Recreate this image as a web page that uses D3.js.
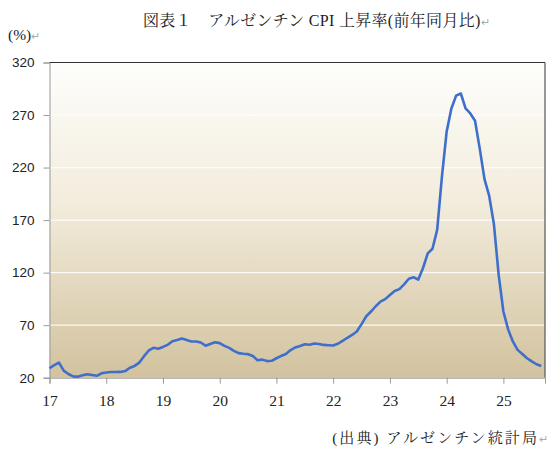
<!DOCTYPE html>
<html>
<head>
<meta charset="utf-8">
<script src="https://cdn.jsdelivr.net/npm/d3@7"></script>
<style>
  body { margin: 0; background: #fff; }
  svg { display: block; }
</style>
</head>
<body>
<svg id="chart" width="559" height="455"></svg>
<script>
// 月次データ 2017年1月〜2025年9月 (前年同月比, %)
const cpi2017 = [29, 32, 34.3, 26.7, 23.5, 21.2, 21, 22.3, 23.3, 22.6, 21.8, 24.2];
const cpi2018 = [25.0, 25.4, 25.4, 25.5, 26.3, 29.5, 31.2, 34.4, 40.5, 45.9, 48.5, 47.6];
const cpi2019 = [49.3, 51.3, 54.7, 55.8, 57.3, 55.8, 54.4, 54.5, 53.5, 50.5, 52.1, 53.8];
const cpi2020 = [52.9, 50.3, 48.4, 45.6, 43.4, 42.8, 42.4, 40.7, 36.6, 37.2, 35.8, 36.1];
const cpi2021 = [38.5, 40.7, 42.6, 46.3, 48.8, 50.2, 51.8, 51.4, 52.5, 52.1, 51.2, 50.9];
const cpi2022 = [50.7, 52.3, 55.1, 58.0, 60.7, 64.0, 71.0, 78.5, 83.0, 88.0, 92.4, 94.8];
const cpi2023 = [98.8, 102.5, 104.3, 108.8, 114.2, 115.6, 113.4, 124.4, 138.3, 142.7, 160.9, 211.4];
const cpi2024 = [254.2, 276.2, 288.5, 290.5, 276.4, 271.5, 264.5, 238, 209.0, 193.0, 166.0, 117.8];
const cpi2025 = [83, 66, 54.5, 46.5, 42.5, 38.5, 35.5, 32.8, 31.2];

const yearLabels = ["17", "18", "19", "20", "21", "22", "23", "24", "25"];
const yTicks = [20, 70, 120, 170, 220, 270, 320];

const values = [].concat(cpi2017, cpi2018, cpi2019, cpi2020, cpi2021, cpi2022, cpi2023, cpi2024, cpi2025);

const svg = d3.select("#chart");
const plotL = 49.5, plotR = 545, plotT = 62.5, plotB = 377.7;

const x = d3.scaleLinear().domain([0, 104.8]).range([plotL, plotR]);
const y = d3.scaleLinear().domain([20, 320]).range([plotB, plotT]);

// 背景グラデーション
const grad = svg.append("defs").append("linearGradient")
  .attr("id", "bg")
  .attr("x1", 0).attr("y1", 0).attr("x2", 0).attr("y2", 1);
grad.append("stop").attr("offset", "0%").attr("stop-color", "#fefefc");
grad.append("stop").attr("offset", "45%").attr("stop-color", "#f2ecdc");
grad.append("stop").attr("offset", "100%").attr("stop-color", "#d2c29e");

svg.append("rect")
  .attr("x", plotL).attr("y", plotT)
  .attr("width", plotR - plotL).attr("height", plotB - plotT)
  .attr("fill", "url(#bg)");

// グリッド線
svg.append("g")
  .selectAll("line")
  .data(yTicks.filter(d => d > 20 && d < 320))
  .enter()
  .append("line")
  .attr("x1", plotL).attr("x2", plotR)
  .attr("y1", d => y(d)).attr("y2", d => y(d))
  .attr("stroke", "#ffffff")
  .attr("stroke-opacity", 0.85)
  .attr("stroke-width", 1.3);

// 枠線 (上・右)
svg.append("line")
  .attr("x1", plotL).attr("x2", plotR).attr("y1", plotT).attr("y2", plotT)
  .attr("stroke", "#333").attr("stroke-width", 1.2);
svg.append("line")
  .attr("x1", plotR).attr("x2", plotR).attr("y1", plotT).attr("y2", plotB)
  .attr("stroke", "#555").attr("stroke-width", 1.2);

// Y軸
const yAxis = svg.append("g")
  .attr("transform", `translate(${plotL},0)`)
  .call(d3.axisLeft(y).tickValues(yTicks).tickSize(6).tickPadding(9));
yAxis.select(".domain").attr("stroke", "#999");
yAxis.selectAll(".tick line").attr("stroke", "#999");
yAxis.selectAll("text")
  .attr("fill", "#222")
  .style("font-family", "'Liberation Sans', Arial, sans-serif")
  .style("font-size", "13.5px");

// X軸
const xAxis = svg.append("g")
  .attr("transform", `translate(0,${plotB})`)
  .call(d3.axisBottom(x)
    .tickValues(yearLabels.map((d, i) => i * 12))
    .tickFormat((d, i) => yearLabels[i])
    .tickSize(6).tickPadding(11));
xAxis.select(".domain").attr("stroke", "#999");
xAxis.selectAll(".tick line").attr("stroke", "#999");
xAxis.selectAll("text")
  .attr("fill", "#222")
  .style("font-family", "'Liberation Serif', 'Times New Roman', serif")
  .style("font-size", "15.5px");

// 折れ線
const line = d3.line()
  .x((d, i) => x(i))
  .y(d => y(d));

svg.append("path")
  .datum(values)
  .attr("d", line)
  .attr("fill", "none")
  .attr("stroke", "#3f6fcb")
  .attr("stroke-width", 2.6)
  .attr("stroke-linejoin", "round");

// テキスト
const jp = "'Liberation Serif', 'Noto Serif CJK JP', 'Noto Sans CJK JP', serif";

const title = svg.append("text")
  .attr("x", 143).attr("y", 26)
  .style("font-family", jp)
  .style("font-size", "16px")
  .style("letter-spacing", "0.3px")
  .attr("fill", "#222");
title.append("tspan").text("図表１　アルゼンチン CPI 上昇率(前年同月比)");
title.append("tspan").attr("fill", "#aaa").style("font-size", "11px").text("↵");

const unit = svg.append("text")
  .attr("x", 8).attr("y", 40)
  .style("font-family", jp)
  .style("font-size", "15.5px")
  .attr("fill", "#222");
unit.append("tspan").text("(%)");
unit.append("tspan").attr("fill", "#aaa").style("font-size", "11px").text("↵");

const src = svg.append("text")
  .attr("x", 548).attr("y", 443)
  .attr("text-anchor", "end")
  .style("font-family", jp)
  .style("font-size", "15px")
  .style("letter-spacing", "2.1px")
  .attr("fill", "#222");
src.append("tspan").text("(出典) アルゼンチン統計局");
src.append("tspan").attr("fill", "#aaa").style("font-size", "11px").style("letter-spacing", "0px").text("↵");
</script>
</body>
</html>
